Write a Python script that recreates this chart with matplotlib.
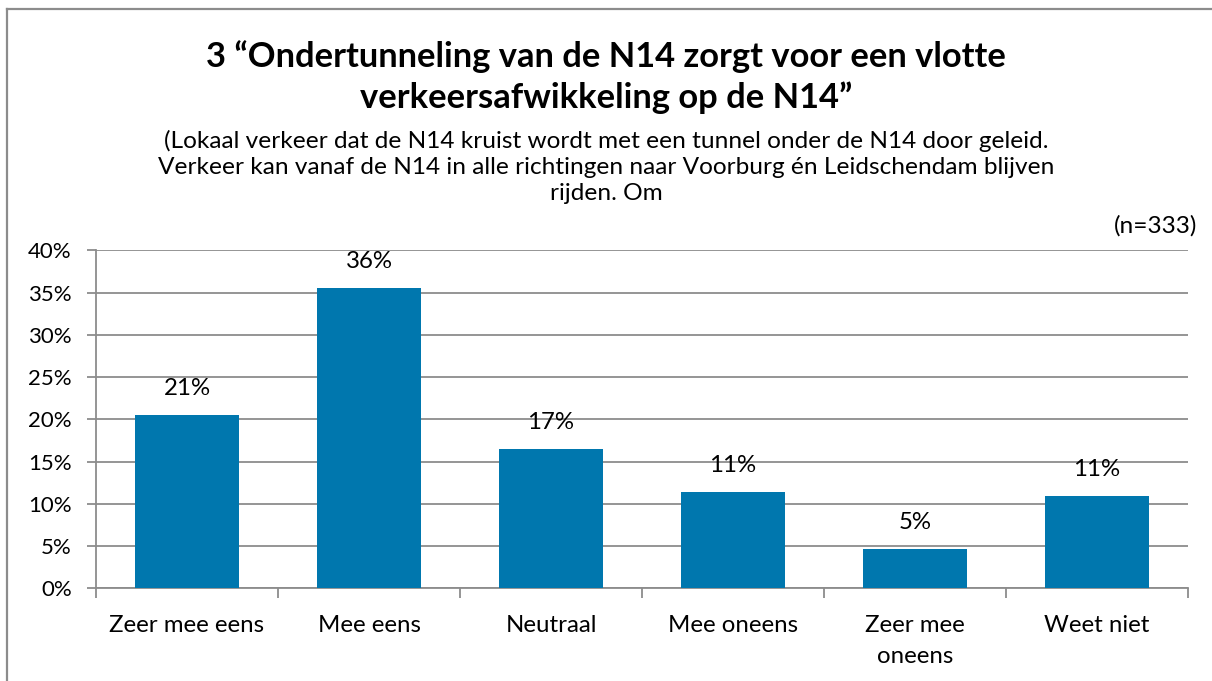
import matplotlib
matplotlib.use("Agg")
import matplotlib.pyplot as plt
from matplotlib.lines import Line2D

categories = ["Zeer mee eens", "Mee eens", "Neutraal", "Mee oneens", "Zeer mee\noneens", "Weet niet"]
values = [20.5, 35.5, 16.5, 11.4, 4.7, 10.9]
labels = ["21%", "36%", "17%", "11%", "5%", "11%"]
yticks = [0, 5, 10, 15, 20, 25, 30, 35, 40]
title = "3 \u201cOndertunneling van de N14 zorgt voor een vlotte\nverkeersafwikkeling op de N14\u201d"
subtitle = ("(Lokaal verkeer dat de N14 kruist wordt met een tunnel onder de N14 door geleid.\n"
            "Verkeer kan vanaf de N14 in alle richtingen naar Voorburg \u00e9n Leidschendam blijven\n"
            "rijden. Om")
n_note = "(n=333)"

W, H = 1212, 681
plt.rcParams['font.family'] = ['Lato', 'DejaVu Sans']
fig = plt.figure(figsize=(W / 100, H / 100), dpi=100)
fig.patch.set_facecolor("white")

ax = fig.add_axes([96 / W, (H - 588.3) / H, (1188 - 96) / W, (588.3 - 250.3) / H])
x = list(range(len(categories)))
ax.bar(x, values, width=0.57, color="#0077AE", zorder=3)
ax.set_xlim(-0.5, len(categories) - 0.5)
ax.set_ylim(0, 40)
ax.set_yticks(yticks)
ax.set_yticklabels([f"{v}%" for v in yticks])
ax.yaxis.grid(True, color="#8c8c8c", linewidth=1.3, zorder=0)
ax.set_axisbelow(True)
for s in ["top", "right"]:
    ax.spines[s].set_visible(False)
ax.spines["left"].set_color("#8c8c8c")
ax.spines["left"].set_linewidth(1.3)
ax.spines["bottom"].set_color("#8c8c8c")
ax.spines["bottom"].set_linewidth(1.3)
ax.tick_params(axis="y", length=6.5, color="#8c8c8c", width=1.3, pad=11, labelsize=16)
ax.set_xticks(x)
ax.set_xticklabels(categories, fontsize=17.3, linespacing=1.58)
ax.tick_params(axis="x", length=0, pad=19)
bounds = [i - 0.5 for i in range(len(categories) + 1)]
ax.set_xticks(bounds, minor=True)
ax.tick_params(axis="x", which="minor", length=7, color="#8c8c8c", width=1.3)

for xi, v, lab in zip(x, values, labels):
    ax.annotate(lab, (xi, v), xytext=(0, 19), textcoords="offset points",
                ha="center", va="center", fontsize=17.3)

fig.text(0.5, 1 - 77 / H, title, ha="center", va="center", fontsize=24.8,
         fontweight="bold", linespacing=1.28)
fig.text(0.5, 1 - 167 / H, subtitle, ha="center", va="center", fontsize=17.6,
         linespacing=1.28)
fig.text(1197 / W, 1 - 226 / H, n_note, ha="right", va="center", fontsize=17.6)

fig.add_artist(Line2D([6.5 / W, 6.5 / W], [0, 1 - 8.5 / H], transform=fig.transFigure,
                      color="#8c8c8c", linewidth=1.6))
fig.add_artist(Line2D([6.5 / W, 1], [1 - 8.5 / H, 1 - 8.5 / H], transform=fig.transFigure,
                      color="#8c8c8c", linewidth=1.6))

fig.savefig("out.png", dpi=100, facecolor="white")
